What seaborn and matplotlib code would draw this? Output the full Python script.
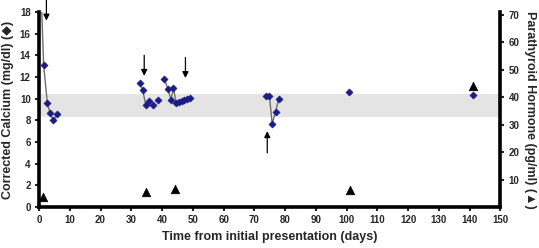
import pandas as pd
import seaborn as sns
import matplotlib.pyplot as plt

# corrected calcium (mg/dl), seg = connected runs of the grey line
ca_day = [0.7, 1.5, 2.7, 3.6, 4.7, 6.0,
          32.7, 33.7, 34.7, 35.8, 36.9, 38.8,
          40.7, 41.9, 42.9, 43.7, 44.6, 45.5, 46.4, 47.2, 48.1, 49.0,
          73.8, 74.9, 75.8, 76.9, 77.9,
          100.9, 141.1]
ca_val = [19.5, 13.1, 9.6, 8.65, 8.0, 8.6,
          11.4, 10.8, 9.4, 9.8, 9.4, 9.9,
          11.85, 10.9, 9.9, 11.0, 9.57, 9.7, 9.8, 9.9, 10.0, 10.1,
          10.25, 10.25, 7.7, 8.77, 10.0,
          10.65, 10.37]
ca_seg = [1, 1, 1, 1, 1, 1,
          2, 2, 2, 3, 4, 5,
          6, 6, 6, 6, 6, 6, 6, 6, 6, 6,
          7, 7, 7, 7, 7,
          8, 9]

# parathyroid hormone (pg/ml)
pth_day = [1.4, 34.7, 44.1, 101.1, 141.1]
pth_val = [3.7, 5.5, 6.7, 6.1, 43.9]

# normal calcium range
band_lo, band_hi = 8.35, 10.4

# arrows (day, tail value, head value) on calcium scale
arrows = [(2.4, 19.1, 17.2), (34.2, 14.0, 12.1), (47.6, 13.8, 11.9), (74.2, 5.0, 7.0)]

sns.set_style("ticks")
plt.rcParams['font.family'] = ['Liberation Sans', 'DejaVu Sans']
plt.rcParams['font.weight'] = 'bold'

df = pd.DataFrame({'day': ca_day, 'ca': ca_val, 'seg': ca_seg})
dfp = pd.DataFrame({'day': pth_day, 'pth': pth_val})

fig = plt.figure(figsize=(5.39, 2.48), dpi=100)
ax = fig.add_axes([0.0724, 0.165, 0.856, 0.787])

ax.axhspan(band_lo, band_hi, color='#e4e4e4', zorder=0, lw=0)
sns.lineplot(data=df, x='day', y='ca', units='seg', estimator=None,
             color='#6e6e6e', lw=1, ax=ax, legend=False)
sns.scatterplot(data=df, x='day', y='ca', marker='D', color='#1c1c84',
                s=14, edgecolor='#1c1c84', ax=ax, legend=False, zorder=3)

for x, y0, y1 in arrows:
    ax.annotate('', xy=(x, y1), xytext=(x, y0),
                arrowprops=dict(arrowstyle='-|>', color='black', lw=0.9,
                                mutation_scale=9, shrinkA=0, shrinkB=0),
                annotation_clip=False)

ax.set_xlim(0, 150)
ax.set_ylim(0, 18)
ax.set_xticks(range(0, 151, 10))
ax.set_yticks(range(0, 19, 2))
ax.set_xlabel('Time from initial presentation (days)', fontsize=9, fontweight='bold')
ax.set_ylabel('Corrected Calcium (mg/dl) (\u25c6)', fontsize=9, fontweight='bold', labelpad=4)

ax2 = ax.twinx()
sns.scatterplot(data=dfp, x='day', y='pth', marker='^', color='black',
                s=38, edgecolor='black', ax=ax2, legend=False, zorder=4)
ax2.set_ylim(0, 71)
ax2.set_yticks(range(10, 71, 10))
ax2.set_ylabel('Parathyroid Hormone (pg/ml) (\u25b2)', fontsize=9, fontweight='bold',
               rotation=270, labelpad=12)

for a in (ax, ax2):
    a.spines['top'].set_visible(False)
    for s in ('left', 'right', 'bottom'):
        a.spines[s].set_linewidth(2.6)
        a.spines[s].set_color('black')
    a.tick_params(labelsize=7, width=1.5, length=3, pad=3)
ax.spines['right'].set_visible(False)
ax2.spines['left'].set_visible(False)
ax2.spines['bottom'].set_visible(False)

fig.savefig('out.png', dpi=100)
